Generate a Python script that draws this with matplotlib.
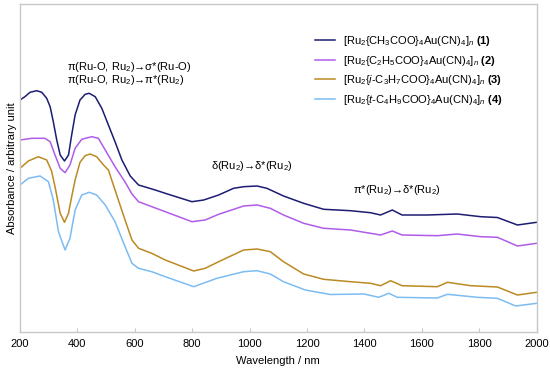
import matplotlib
matplotlib.use("Agg")
import matplotlib.pyplot as plt

plt.rcParams['font.family'] = ['Liberation Sans', 'DejaVu Sans']
plt.rcParams['mathtext.fontset'] = 'custom'
plt.rcParams['mathtext.rm'] = 'Liberation Sans'
plt.rcParams['mathtext.it'] = 'Liberation Sans:italic'
plt.rcParams['mathtext.bf'] = 'Liberation Sans:bold'

# --- data (arbitrary absorbance units, offset) ---
wl1 = [200, 217, 235, 258, 276, 293, 305, 316, 328, 340, 355, 369, 380, 392, 409, 427, 441, 462, 485, 508, 531, 555, 584, 613, 671, 706, 799, 840, 892, 944, 979, 1026, 1060, 1118, 1188, 1258, 1351, 1421, 1456, 1497, 1531, 1619, 1723, 1805, 1863, 1933, 2000]
a1 = [232, 235.3, 239.7, 241.3, 239.7, 233.7, 225.3, 210.3, 192, 177, 171, 177, 197, 217, 232, 237.7, 238.7, 235.3, 223.7, 207, 190.3, 172, 156, 147, 142, 138.7, 130.3, 132, 137, 143.7, 145.3, 146, 143.7, 136, 128.7, 122.7, 121.3, 119.3, 117, 122, 117, 117, 118, 115.3, 114.5, 107, 109.7]

wl2 = [200, 241, 287, 305, 322, 340, 357, 374, 392, 415, 450, 473, 497, 531, 566, 590, 613, 706, 799, 845, 892, 979, 1026, 1072, 1118, 1188, 1258, 1351, 1421, 1456, 1497, 1531, 1654, 1723, 1805, 1863, 1933, 2000]
a2 = [192, 193.7, 193.7, 190.3, 177, 163.7, 159.3, 167, 183.7, 192.7, 195.3, 193.7, 182, 165.3, 150, 138, 130.3, 120.3, 110.3, 112, 117.7, 126, 127, 123.7, 117, 108.7, 103.7, 102, 98.7, 97, 101, 97, 96.3, 98, 95.3, 94.7, 86, 88.7]

wl3 = [200, 229, 264, 293, 310, 322, 340, 355, 369, 380, 392, 409, 427, 444, 467, 491, 508, 531, 566, 590, 613, 659, 706, 805, 845, 892, 979, 1026, 1072, 1118, 1188, 1258, 1351, 1421, 1456, 1491, 1531, 1654, 1689, 1770, 1863, 1933, 2000]
a3 = [163.7, 171, 175.3, 172, 161, 145.3, 118.7, 109.7, 118.7, 135.3, 152, 169.7, 176.3, 178, 175.3, 167, 162, 142, 112, 92, 83.7, 78.7, 72, 61, 63.7, 70.3, 82, 83, 80.3, 70.3, 58, 52.7, 50.3, 48.7, 46.3, 51.3, 46.3, 45.3, 49.7, 46.3, 45, 37, 39.7]

wl4 = [200, 229, 270, 299, 316, 334, 357, 374, 392, 415, 441, 467, 497, 531, 566, 590, 613, 659, 706, 805, 886, 979, 1026, 1072, 1118, 1194, 1281, 1398, 1450, 1485, 1514, 1654, 1689, 1793, 1863, 1927, 2000]
a4 = [147, 153.7, 156, 150.3, 132, 100.3, 82, 93.7, 122, 137, 139.7, 137, 127, 110.3, 85.3, 68.7, 63.7, 60.3, 55.3, 45.3, 53.7, 60.3, 61.3, 58, 50.3, 42, 37.5, 38, 34.7, 38.7, 34.7, 34, 37.7, 34.7, 33.7, 26, 28.7]

labels = [
    r'[Ru$_2${CH$_3$COO}$_4$Au(CN)$_4$]$_n$ $\mathbf{(1)}$',
    r'[Ru$_2${C$_2$H$_5$COO}$_4$Au(CN)$_4$]$_n$ $\mathbf{(2)}$',
    r'[Ru$_2${$i$-C$_3$H$_7$COO}$_4$Au(CN)$_4$]$_n$ $\mathbf{(3)}$',
    r'[Ru$_2${$t$-C$_4$H$_9$COO}$_4$Au(CN)$_4$]$_n$ $\mathbf{(4)}$',
]
colors = ['#1c1c72', '#b05ce8', '#bb8a22', '#7cbcf2']
xticks = [200, 400, 600, 800, 1000, 1200, 1400, 1600, 1800, 2000]

fig = plt.figure(figsize=(5.5, 3.7), dpi=100)
ax = fig.add_axes([20/550, 38/370, (536.7 - 20)/550, 328/370])

for wl, a, c, lab in zip([wl1, wl2, wl3, wl4], [a1, a2, a3, a4], colors, labels):
    ax.plot(wl, a, color=c, lw=1.1, label=lab)

ax.set_xlim(200, 2000)
ax.set_ylim(0, 328)
ax.set_xticks(xticks)
ax.set_yticks([])
ax.tick_params(axis='x', direction='in', length=3, color='#c8c8c8', labelsize=8, pad=5)
for s in ax.spines.values():
    s.set_color('#c8c8c8')
    s.set_linewidth(1.0)

ax.set_xlabel('Wavelength / nm', fontsize=8, labelpad=5)
ax.set_ylabel('Absorbance / arbitrary unit', fontsize=8, labelpad=2)

fs = 8
ax.text(0.091, 0.788, 'π(Ru-O, Ru$_2$)→σ*(Ru-O)\nπ(Ru-O, Ru$_2$)→π*(Ru$_2$)',
        transform=ax.transAxes, fontsize=fs, ha='left', va='center', linespacing=0.85)
ax.text(0.449, 0.506, 'δ(Ru$_2$)→δ*(Ru$_2$)', transform=ax.transAxes, fontsize=fs,
        ha='center', va='center')
ax.text(0.730, 0.433, 'π*(Ru$_2$)→δ*(Ru$_2$)', transform=ax.transAxes, fontsize=fs,
        ha='center', va='center')

leg = ax.legend(loc='upper left', bbox_to_anchor=(305/550, 1 - 24/370), bbox_transform=fig.transFigure,
                frameon=False, fontsize=fs, handlelength=1.8, handletextpad=0.7, labelspacing=0.5)

fig.savefig('out.png', dpi=100)
